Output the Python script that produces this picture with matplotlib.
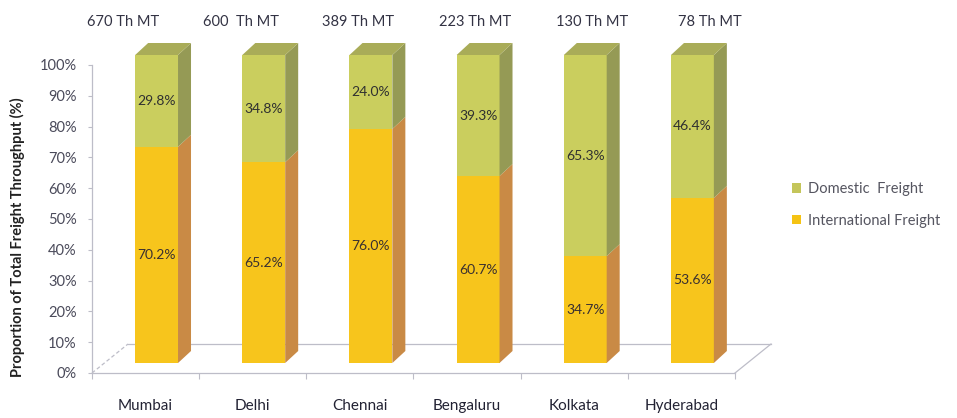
"""
Share of domestic vs international freight by airport, 3D-look stacked bars.
"""
import matplotlib.pyplot as plt
from matplotlib.patches import Polygon, Patch

plt.rcParams['font.family'] = ['Lato', 'DejaVu Sans']

# data
cities = ['Mumbai', 'Delhi', 'Chennai', 'Bengaluru', 'Kolkata', 'Hyderabad']
totals = ['670 Th MT', '600  Th MT', '389 Th MT', '223 Th MT', '130 Th MT', '78 Th MT']
intl = [70.2, 65.2, 76.0, 60.7, 34.7, 53.6]
dom = [29.8, 34.8, 24.0, 39.3, 65.3, 46.4]

# colours: front, side, top
intl_c = ('#F7C51C', '#C98A45', '#E0A830')
dom_c = ('#CACE5E', '#959A55', '#A9AC58')

fig = plt.figure(figsize=(9.57, 4.18), dpi=100)
W, H = 957, 418
ax = fig.add_axes([92 / W, 45 / H, 643 / W, 308 / H])
ax.set_xlim(-0.5, 5.5)
ax.set_ylim(0, 100)

# pixel -> data scale
sx = 6 / 643
sy = 100 / 308

bw = 0.40
shift_x, shift_y = 11 * sx, 10 * sy       # bar front offset
dep_x, dep_y = 13 * sx, 12 * sy           # bar depth
flo_x, flo_y = 36 * sx, 29 * sy           # floor depth

# floor
fl = dict(color='#BDBDC8', lw=0.9, zorder=0, clip_on=False)
ax.plot([-0.5, 5.5], [0, 0], **fl)
ax.plot([-0.5 + flo_x, 5.5 + flo_x], [flo_y, flo_y], **fl)
ax.plot([-0.5, -0.5 + flo_x], [0, flo_y], ls=(0, (3, 2)), **fl)
ax.plot([5.5, 5.5 + flo_x], [0, flo_y], **fl)


def box(x, y0, y1, cols, top):
    l = x - bw / 2 + shift_x
    r = x + bw / 2 + shift_x
    b = y0 + shift_y
    t = y1 + shift_y
    ax.add_patch(Polygon([(l, b), (r, b), (r, t), (l, t)], closed=True,
                         fc=cols[0], ec='none', zorder=3, clip_on=False))
    ax.add_patch(Polygon([(r, b), (r + dep_x, b + dep_y), (r + dep_x, t + dep_y), (r, t)],
                         closed=True, fc=cols[1], ec='none', zorder=3, clip_on=False))
    if top:
        ax.add_patch(Polygon([(l, t), (r, t), (r + dep_x, t + dep_y), (l + dep_x, t + dep_y)],
                             closed=True, fc=cols[2], ec='none', zorder=3, clip_on=False))


for i in range(len(cities)):
    box(i, 0, intl[i], intl_c, False)
    box(i, intl[i], intl[i] + dom[i], dom_c, True)
    cx = i + shift_x
    ax.text(cx, intl[i] / 2 + shift_y, f'{intl[i]:.1f}%', ha='center', va='center',
            fontsize=10, color='#3a3030', zorder=5)
    ax.text(cx, intl[i] + dom[i] / 2 + shift_y, f'{dom[i]:.1f}%', ha='center', va='center',
            fontsize=10, color='#2f3030', zorder=5)
    ax.text(i + (i - 2.2) * 0.095, 114, totals[i], ha='center', va='center',
            fontsize=10.5, color='#333344')

# axes styling
for s in ['top', 'right', 'bottom']:
    ax.spines[s].set_visible(False)
ax.spines['left'].set_color('#BDBDC8')
ax.spines['left'].set_linewidth(0.9)
ax.set_yticks(range(0, 101, 10))
ax.set_yticklabels([f'{v}%' for v in range(0, 101, 10)])
ax.tick_params(axis='y', length=3, color='#BDBDC8', labelsize=10.5,
               labelcolor='#4a4a5a', pad=8)

ax.set_xticks([i - 0.5 for i in range(7)])
ax.set_xticklabels([])
ax.tick_params(axis='x', which='major', length=4, color='#BDBDC8')
ax.set_xticks(range(len(cities)), minor=True)
ax.set_xticklabels(cities, minor=True)
ax.tick_params(axis='x', which='minor', length=0, pad=19, labelsize=11,
               labelcolor='#222233')

ax.set_ylabel('Proportion of Total Freight Throughput (%)', fontsize=10.5,
              fontweight='bold', color='#222222')
ax.yaxis.set_label_coords(-67 / 643, 0.44)

handles = [Patch(fc='#C4C55A', ec='none', label='Domestic  Freight'),
           Patch(fc='#F5C313', ec='none', label='International Freight')]
fig.legend(handles=handles, loc='center left', bbox_to_anchor=(779 / W, 1 - 205 / H),
           frameon=False, fontsize=10.5, handlelength=0.6, handleheight=0.6,
           handletextpad=0.5, labelspacing=1.2, labelcolor='#555560')

fig.savefig('out.png', dpi=100)
